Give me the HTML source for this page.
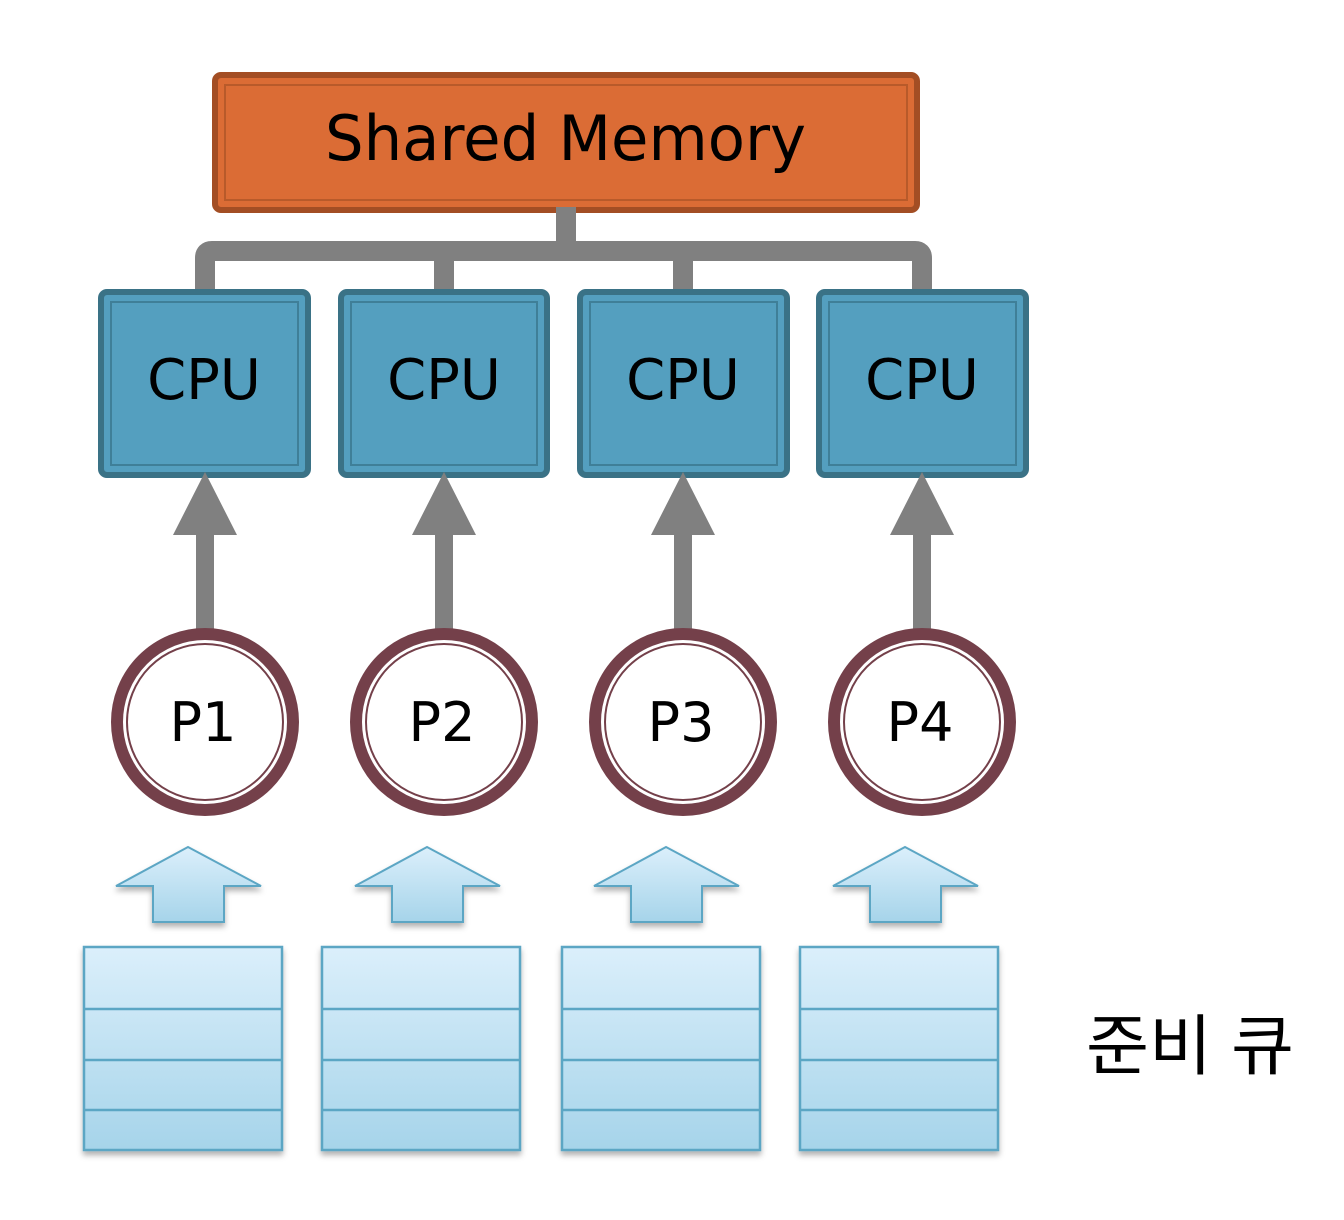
<!DOCTYPE html>
<html><head><meta charset="utf-8"><style>
html,body{margin:0;padding:0;background:#fff;width:1344px;height:1220px;overflow:hidden}
</style></head><body>
<svg width="1344" height="1220" viewBox="0 0 1344 1220" xmlns="http://www.w3.org/2000/svg">
<defs>
<linearGradient id="bg" x1="0" y1="0" x2="0" y2="1"><stop offset="0" stop-color="#dbeffb"/><stop offset="1" stop-color="#a6d4ea"/></linearGradient>
<filter id="sh" x="-20%" y="-20%" width="140%" height="140%"><feDropShadow dx="0" dy="4" stdDeviation="3" flood-color="#000" flood-opacity="0.3"/></filter>
</defs>
<rect x="215" y="75" width="702" height="135" rx="6" fill="#db6c35" stroke="#a34e24" stroke-width="6"/>
<rect x="225" y="85" width="682" height="115" fill="none" stroke="#b85a2a" stroke-width="2"/>
<text x="325" y="160" textLength="481" lengthAdjust="spacingAndGlyphs" font-family="'DejaVu Sans','Liberation Sans',sans-serif" font-size="62" fill="#000">Shared Memory</text>
<g stroke="#808080" stroke-width="20" fill="none">
<line x1="566" y1="207" x2="566" y2="251"/>
<path d="M205 295 V258 Q205 251 212 251 H915 Q922 251 922 258 V295"/>
<line x1="444" y1="251" x2="444" y2="295"/>
<line x1="683" y1="251" x2="683" y2="295"/>
</g>
<g font-family="'DejaVu Sans','Liberation Sans',sans-serif" font-size="56" text-anchor="middle">
<g><rect x="101" y="292" width="207" height="183" rx="6" fill="#549fbf" stroke="#3a7286" stroke-width="6"/><rect x="111" y="302" width="187" height="163" fill="none" stroke="#3f7f98" stroke-width="2"/><text x="204" y="399">CPU</text></g>
<g><rect x="341" y="292" width="206" height="183" rx="6" fill="#549fbf" stroke="#3a7286" stroke-width="6"/><rect x="351" y="302" width="186" height="163" fill="none" stroke="#3f7f98" stroke-width="2"/><text x="444" y="399">CPU</text></g>
<g><rect x="580" y="292" width="207" height="183" rx="6" fill="#549fbf" stroke="#3a7286" stroke-width="6"/><rect x="590" y="302" width="187" height="163" fill="none" stroke="#3f7f98" stroke-width="2"/><text x="683" y="399">CPU</text></g>
<g><rect x="819" y="292" width="207" height="183" rx="6" fill="#549fbf" stroke="#3a7286" stroke-width="6"/><rect x="829" y="302" width="187" height="163" fill="none" stroke="#3f7f98" stroke-width="2"/><text x="922" y="399">CPU</text></g>
</g>
<g fill="#808080">
<path d="M205 472 L237 535 L214 535 L214 636 L196 636 L196 535 L173 535 Z"/>
<path d="M444 472 L476 535 L453 535 L453 636 L435 636 L435 535 L412 535 Z"/>
<path d="M683 472 L715 535 L692 535 L692 636 L674 636 L674 535 L651 535 Z"/>
<path d="M922 472 L954 535 L931 535 L931 636 L913 636 L913 535 L890 535 Z"/>
</g>
<g font-family="'DejaVu Sans','Liberation Sans',sans-serif" font-size="54" font-weight="500" text-anchor="middle">
<g><circle cx="205" cy="722" r="88" fill="#fff" stroke="#74404a" stroke-width="12"/><circle cx="205" cy="722" r="78" fill="none" stroke="#74404a" stroke-width="2"/><text x="203" y="741">P1</text></g>
<g><circle cx="444" cy="722" r="88" fill="#fff" stroke="#74404a" stroke-width="12"/><circle cx="444" cy="722" r="78" fill="none" stroke="#74404a" stroke-width="2"/><text x="442" y="741">P2</text></g>
<g><circle cx="683" cy="722" r="88" fill="#fff" stroke="#74404a" stroke-width="12"/><circle cx="683" cy="722" r="78" fill="none" stroke="#74404a" stroke-width="2"/><text x="681" y="741">P3</text></g>
<g><circle cx="922" cy="722" r="88" fill="#fff" stroke="#74404a" stroke-width="12"/><circle cx="922" cy="722" r="78" fill="none" stroke="#74404a" stroke-width="2"/><text x="920" y="741">P4</text></g>
</g>
<g fill="url(#bg)" stroke="#5ba6c4" stroke-width="2" filter="url(#sh)">
<path d="M188 847 L261 886 L224 886 L224 922 L153 922 L153 886 L116 886 Z"/>
<path d="M427 847 L500 886 L463 886 L463 922 L392 922 L392 886 L355 886 Z"/>
<path d="M666 847 L739 886 L702 886 L702 922 L631 922 L631 886 L594 886 Z"/>
<path d="M905 847 L978 886 L941 886 L941 922 L870 922 L870 886 L833 886 Z"/>
</g>
<g stroke="#5ba6c4" stroke-width="2.5">
<g filter="url(#sh)"><rect x="84" y="947" width="198" height="203" fill="url(#bg)"/></g>
<g filter="url(#sh)"><rect x="322" y="947" width="198" height="203" fill="url(#bg)"/></g>
<g filter="url(#sh)"><rect x="562" y="947" width="198" height="203" fill="url(#bg)"/></g>
<g filter="url(#sh)"><rect x="800" y="947" width="198" height="203" fill="url(#bg)"/></g>
<path d="M84 1009 H282 M84 1060 H282 M84 1110 H282 M322 1009 H520 M322 1060 H520 M322 1110 H520 M562 1009 H760 M562 1060 H760 M562 1110 H760 M800 1009 H998 M800 1060 H998 M800 1110 H998"/>
</g>
<text x="1086" y="1069" textLength="208" lengthAdjust="spacingAndGlyphs" font-family="'Liberation Sans','Noto Sans CJK KR',sans-serif" font-size="66" fill="#000">준비 큐</text>
</svg>
</body></html>
